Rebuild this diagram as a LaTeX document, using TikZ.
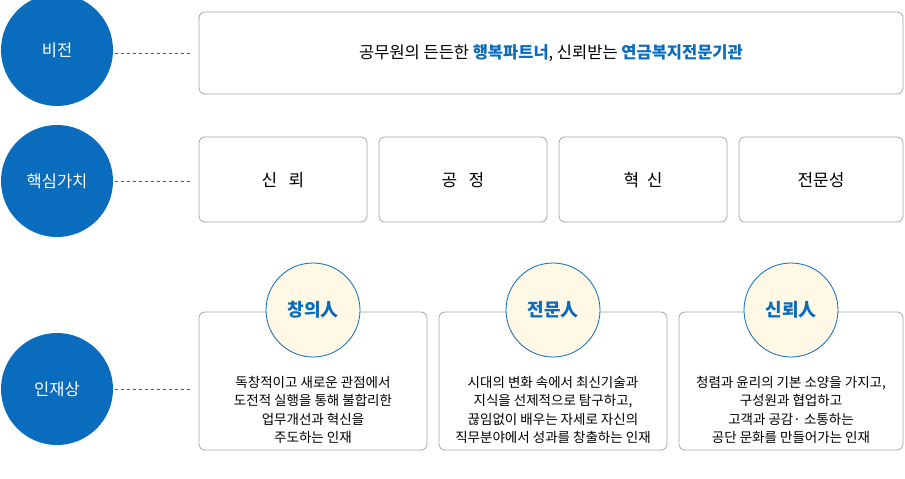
\documentclass[tikz,border=0pt]{standalone}
\usepackage{fontspec}
\setmainfont{Noto Sans CJK KR}
\begin{document}
\begin{tikzpicture}[x=1pt,y=-1pt,
  bigc/.style={circle,fill=blue1,minimum size=112pt,inner sep=0,text=white,font=\fontsize{16.5}{18}\selectfont},
  box/.style={draw=gray!70,rounded corners=6pt,line width=0.8pt,fill=white},
  sm/.style={circle,draw=blue1,line width=0.8pt,fill=cream,minimum size=94pt,inner sep=0,text=blue1,font=\fontsize{18}{20}\selectfont\bfseries},
  dl/.style={dashed,draw=blue1,line width=0.6pt},
  val/.style={font=\fontsize{17}{19}\selectfont}]
\definecolor{blue1}{HTML}{0A6CBC}
\definecolor{cream}{HTML}{FEF8E4}
\useasboundingbox (0,0) rectangle (905,479);
\node[bigc] (c1) at (57,50) {비전};
\node[bigc] (c2) at (57,181) {핵심가치};
\node[bigc] (c3) at (57,389) {인재상};
\draw[box] (199,12) rectangle (903,94);
\node[font=\fontsize{16.5}{18}\selectfont] (v) at (551,53) {공무원의 든든한 \textcolor{blue1}{\bfseries 행복파트너}, 신뢰받는 \textcolor{blue1}{\bfseries 연금복지전문기관}};
\coordinate (e1) at (192,53);
\coordinate (e2) at (192,181);
\coordinate (e3) at (192,389);
\draw[dl] (115,53) -- (e1);
\draw[dl] (115,181) -- (e2);
\draw[dl] (115,389) -- (e3);
\foreach \a/\b/\t in {199/367/신\ \ \ 뢰,379/547/공\ \ \ 정,559/727/혁\ \ 신,739/903/전문성}{
  \draw[box] (\a,137) rectangle (\b,222);
  \node[val] at ({(\a+\b)/2},180) {\t};
}
\foreach \a/\b/\t/\d in {199/427/창의人/{독창적이고 새로운 관점에서\\도전적 실행을 통해 불합리한\\업무개선과 혁신을\\주도하는 인재},
  439/667/전문人/{시대의 변화 속에서 최신기술과\\지식을 선제적으로 탐구하고,\\끊임없이 배우는 자세로 자신의\\직무분야에서 성과를 창출하는 인재},
  679/903/신뢰人/{청렴과 윤리의 기본 소양을 가지고,\\구성원과 협업하고\\고객과 공감· 소통하는\\공단 문화를 만들어가는 인재}}{
  \draw[box] (\a,312) rectangle (\b,450);
  \node[sm] at ({(\a+\b)/2},310) {\t};
  \node[align=center,font=\fontsize{13.5}{18.5}\selectfont] at ({(\a+\b)/2},410) {\d};
}
\end{tikzpicture}
\end{document}
